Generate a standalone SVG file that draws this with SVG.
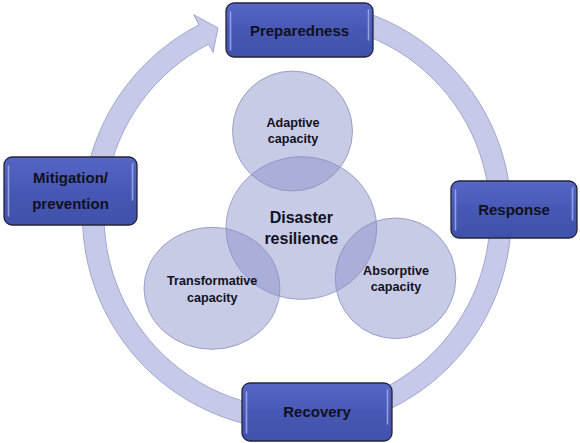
<svg xmlns="http://www.w3.org/2000/svg" width="580" height="443" viewBox="0 0 580 443">
  <defs>
    <linearGradient id="boxGrad" x1="0" y1="0" x2="0" y2="1">
      <stop offset="0" stop-color="#5566c6"/>
      <stop offset="0.5" stop-color="#4758b4"/>
      <stop offset="1" stop-color="#4051aa"/>
    </linearGradient>
  </defs>
  <style>
    .band { fill: #c6c9e7; stroke: #9aa0cc; stroke-width: 0.9; }
    .circ { fill: #868cc8; fill-opacity: 0.45; stroke: #8a90bc; stroke-width: 0.8; }
    .box { fill: url(#boxGrad); stroke: #23263d; stroke-width: 1.3; }
    .hl { stroke: #a3adec; stroke-width: 1.6; stroke-linecap: round; opacity: 0.85; }
    .bt { font-family: "Liberation Sans", Arial, sans-serif; font-weight: bold; font-size: 15px; fill: #10111c; text-anchor: middle; }
    .ct { font-family: "Liberation Sans", Arial, sans-serif; font-weight: bold; font-size: 12.6px; fill: #10111c; text-anchor: middle; }
    .big { font-size: 16px; }
  </style>
  <rect width="580" height="443" fill="#ffffff"/>

  <g id="connectors">
    <path class="band" d="M 352.5 8.5 A 214.5 214.5 0 1 1 198.9 24.9 L 193.7 14.7 L 218.0 27.9 L 213.1 52.4 L 208.8 44.1 A 193 193 0 1 0 347.0 29.3 Z"/>
  </g>

  <g id="disaster-resilience">
    <ellipse class="circ" cx="301.3" cy="228" rx="75.3" ry="71.3"/>
    <text class="ct big" x="301.3" y="223">Disaster</text>
    <text class="ct big" x="301.3" y="243.5">resilience</text>
  </g>
  <g id="adaptive-capacity">
    <circle class="circ" cx="292.5" cy="131" r="60"/>
    <text class="ct" x="293" y="127">Adaptive</text>
    <text class="ct" x="293" y="143.3">capacity</text>
  </g>
  <g id="transformative-capacity">
    <ellipse class="circ" cx="212" cy="288.3" rx="68" ry="61"/>
    <text class="ct" x="212.2" y="285">Transformative</text>
    <text class="ct" x="212.2" y="301.5">capacity</text>
  </g>
  <g id="absorptive-capacity">
    <circle class="circ" cx="395.5" cy="278.3" r="60.3"/>
    <text class="ct" x="396" y="275">Absorptive</text>
    <text class="ct" x="396" y="291.3">capacity</text>
  </g>

  <g id="preparedness">
    <rect class="box" x="226" y="3" width="147" height="54" rx="8"/>
    <line class="hl" x1="230.5" y1="12" x2="230.5" y2="50"/>
    <line class="hl" x1="368.5" y1="10" x2="368.5" y2="40"/>
    <text class="bt" x="299.5" y="35.5">Preparedness</text>
  </g>
  <g id="response">
    <rect class="box" x="451" y="181" width="126" height="57" rx="8"/>
    <line class="hl" x1="455.5" y1="190" x2="455.5" y2="230"/>
    <line class="hl" x1="572.5" y1="188" x2="572.5" y2="220"/>
    <text class="bt" x="514" y="214.5">Response</text>
  </g>
  <g id="mitigation-prevention">
    <rect class="box" x="4" y="157" width="133" height="68" rx="8"/>
    <line class="hl" x1="8.5" y1="166" x2="8.5" y2="216"/>
    <line class="hl" x1="132.5" y1="164" x2="132.5" y2="200"/>
    <text class="bt" x="70.5" y="183">Mitigation/</text>
    <text class="bt" x="70.5" y="209">prevention</text>
  </g>
  <g id="recovery">
    <rect class="box" x="242" y="383" width="150" height="58" rx="8"/>
    <line class="hl" x1="246.5" y1="392" x2="246.5" y2="433"/>
    <line class="hl" x1="387.5" y1="390" x2="387.5" y2="424"/>
    <text class="bt" x="317" y="417">Recovery</text>
  </g>
</svg>
